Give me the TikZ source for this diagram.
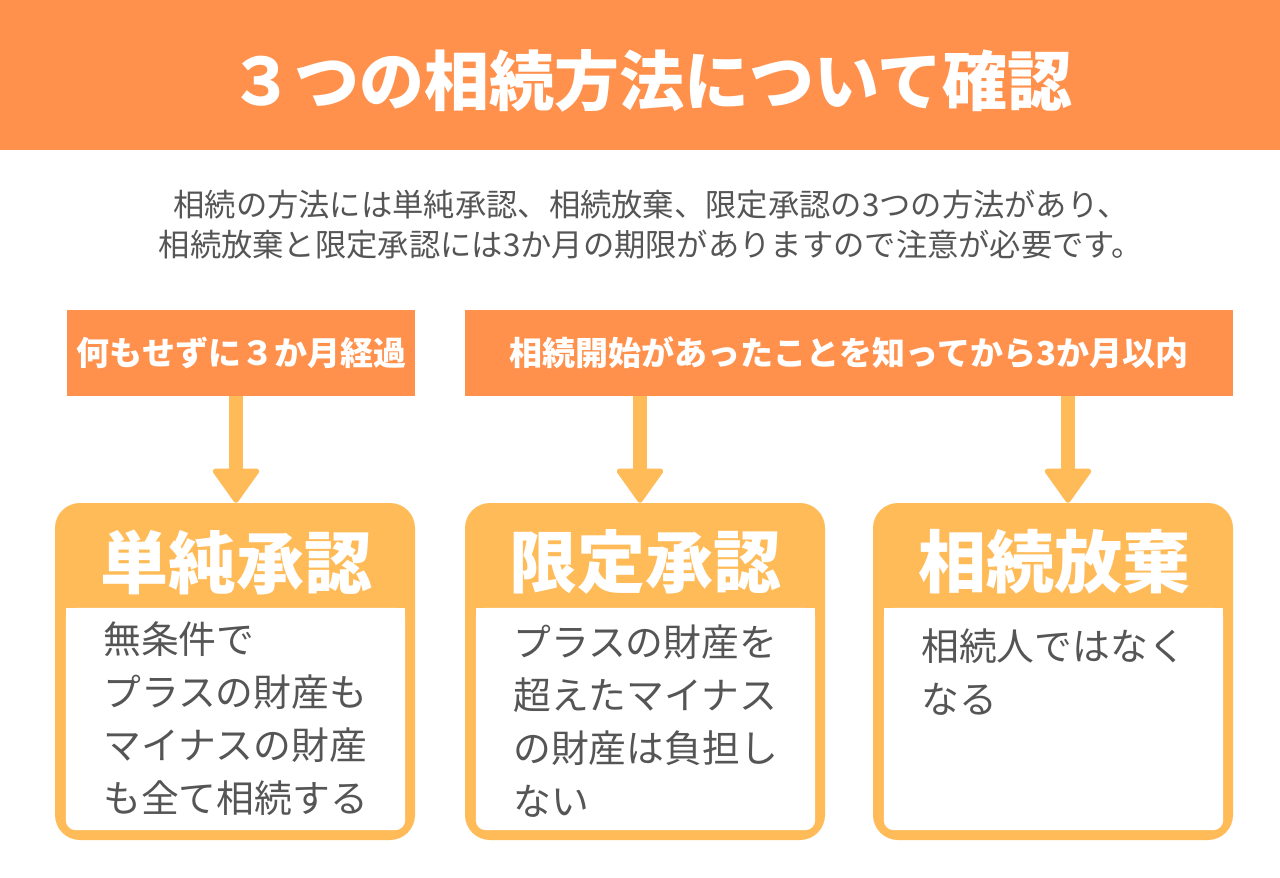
\documentclass[tikz,border=0pt]{standalone}
\usepackage{fontspec}
\setmainfont{Noto Sans CJK JP}
\usetikzlibrary{arrows.meta}

\definecolor{headorange}{HTML}{FF914D}
\definecolor{cardyellow}{HTML}{FFBB58}
\definecolor{bodygray}{HTML}{555555}

\tikzset{
  labelbox/.style={fill=headorange, text=white, inner sep=0pt, minimum height=86pt,
    font=\bfseries\fontsize{33}{38}\selectfont},
  card/.style={fill=cardyellow, rounded corners=25pt, minimum width=360pt, minimum height=337pt},
  cardtitle/.style={text=white, inner sep=0pt, font=\bfseries\fontsize{68}{70}\selectfont},
  cardbody/.style={text=bodygray, inner sep=0pt, anchor=north west, align=left,
    font=\fontsize{37.8}{53}\selectfont},
  flow/.style={draw=cardyellow, line width=14pt,
    -{Triangle[width=50pt, length=36pt, line width=5pt, round]}}
}

\begin{document}
\begin{tikzpicture}[x=1pt, y=-1pt]
    \useasboundingbox (0,0) rectangle (1280,878);

    % 見出し
    \fill[headorange] (0,0) rectangle (1280,150);
    \node[text=white, font=\bfseries\fontsize{65}{70}\selectfont] (title) at (651,81) {３つの相続方法について確認};

    % 説明文
    \node[text=bodygray, align=center, font=\fontsize{31.3}{40}\selectfont] (lead) at (651,225)
        {相続の方法には単純承認、相続放棄、限定承認の3つの方法があり、\\相続放棄と限定承認には3か月の期限がありますので注意が必要です。};

    % 期間のラベル
    \node[labelbox, minimum width=348pt] (lbl1) at (241,352.5) {何もせずに３か月経過};
    \node[labelbox, minimum width=768pt] (lbl2) at (849,352.5) {相続開始があったことを知ってから3か月以内};

    % 3つのカード
    \node[card] (c1) at (235,671.5) {};
    \node[card] (c2) at (645,671.5) {};
    \node[card] (c3) at (1053,671.5) {};
    \foreach \c in {c1,c2,c3} {
        \fill[white, rounded corners=10pt] ([xshift=11pt,yshift=10pt]\c.south west) rectangle ([xshift=-10pt,yshift=-105pt]\c.north east);
        \fill[white] ([xshift=11pt,yshift=-105pt]\c.north west) rectangle ([xshift=-10pt,yshift=-200pt]\c.north east);
    }

    % 矢印
    \coordinate (a1) at (236,0);
    \coordinate (a2) at (640,0);
    \coordinate (a3) at (1068,0);
    \draw[flow] (lbl1.south -| a1) -- (c1.north -| a1);
    \draw[flow] (lbl2.south -| a2) -- (c2.north -| a2);
    \draw[flow] (lbl2.south -| a3) -- (c3.north -| a3);

    % カードの見出しと本文
    \node[cardtitle] (t1) at (236,562) {単純承認};
    \node[cardtitle] (t2) at (645,562) {限定承認};
    \node[cardtitle] (t3) at (1054,562) {相続放棄};
    \node[cardbody] (b1) at (103,621) {無条件で\\プラスの財産も\\マイナスの財産\\も全て相続する};
    \node[cardbody] (b2) at (513,625) {プラスの財産を\\超えたマイナス\\の財産は負担し\\ない};
    \node[cardbody] (b3) at (921,629) {相続人ではなく\\なる};
\end{tikzpicture}
\end{document}
